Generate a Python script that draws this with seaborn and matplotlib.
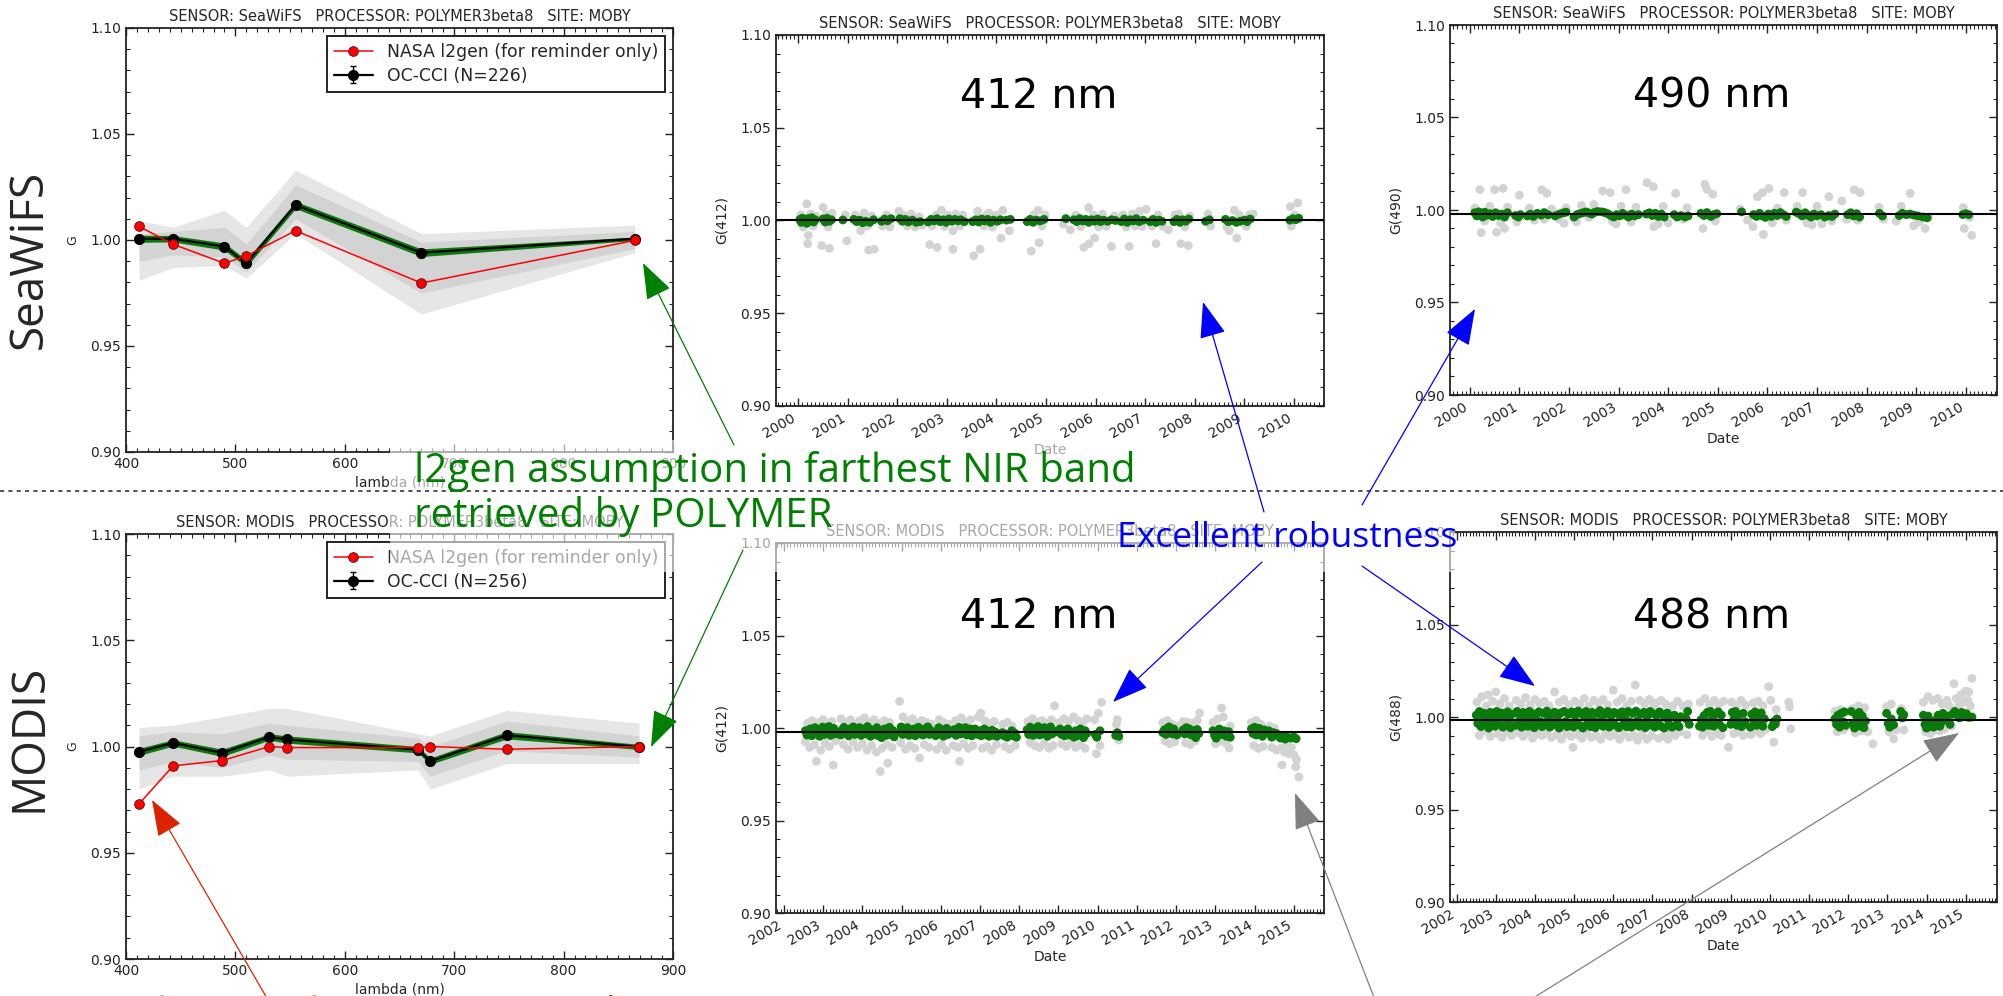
import matplotlib
matplotlib.use("Agg")
import numpy as np
import matplotlib.pyplot as plt
import seaborn as sns
from matplotlib.ticker import MultipleLocator, FormatStrFormatter
from matplotlib.patches import Rectangle
from matplotlib.lines import Line2D

sns.set_style("ticks")
plt.rcParams["font.family"] = ["DejaVu Sans"]

# ---------------------------------------------------------------- spectra
sw_wl = [412, 443, 490, 510, 555, 670, 865]
sw_occi = [1.0006, 1.0006, 0.9969, 0.9890, 1.0165, 0.9940, 1.0006]
sw_occi_std = [0.0017, 0.0015, 0.0017, 0.0017, 0.0017, 0.0018, 0.0008]
sw_l2gen = [1.0064, 0.9980, 0.9890, 0.9925, 1.0044, 0.9797, 0.9998]
sw_all_lo = [0.981, 0.987, 0.988, 0.982, 1.003, 0.965, 0.994]
sw_all_hi = [1.009, 1.006, 1.014, 1.006, 1.033, 1.003, 1.007]
sw_core_lo = [0.990, 0.993, 0.992, 0.985, 1.010, 0.975, 0.996]
sw_core_hi = [1.003, 1.004, 1.006, 0.998, 1.026, 0.999, 1.004]

mo_wl = [412, 443, 488, 531, 547, 667, 678, 748, 869]
mo_occi = [0.9975, 1.0017, 0.9970, 1.0045, 1.0033, 0.9985, 0.9931, 1.0053, 0.9998]
mo_occi_std = [0.0017, 0.0015, 0.0017, 0.0015, 0.0017, 0.0015, 0.0015, 0.0017, 0.0012]
mo_l2gen = [0.9730, 0.9909, 0.9934, 1.0000, 0.9995, 0.9995, 1.0000, 0.9987, 1.0000]
mo_all_lo = [0.980, 0.986, 0.986, 0.989, 0.986, 0.989, 0.980, 0.992, 0.992]
mo_all_hi = [1.009, 1.010, 1.014, 1.018, 1.018, 1.006, 1.005, 1.017, 1.011]
mo_core_lo = [0.989, 0.993, 0.990, 0.996, 0.994, 0.993, 0.986, 0.998, 0.995]
mo_core_hi = [1.005, 1.007, 1.006, 1.011, 1.010, 1.004, 1.000, 1.012, 1.005]

# ---------------------------------------------------------------- SeaWiFS 412 time series
sw412_sel_t = [2000.03, 2000.06, 2000.08, 2000.11, 2000.14, 2000.17, 2000.20, 2000.24, 2000.27, 2000.31, 2000.34,
               2000.50, 2000.54, 2000.58, 2000.63, 2000.67, 2000.90,
               2001.12, 2001.18, 2001.24, 2001.30, 2001.36, 2001.44, 2001.52,
               2001.68, 2001.74, 2001.80, 2001.87,
               2002.05, 2002.10, 2002.16, 2002.22, 2002.30, 2002.38, 2002.46,
               2002.62, 2002.68, 2002.74, 2002.80, 2002.86, 2002.92, 2002.98, 2003.04, 2003.10, 2003.16, 2003.22, 2003.28, 2003.35,
               2003.52, 2003.58, 2003.64, 2003.70, 2003.76, 2003.82, 2003.88, 2003.94, 2004.02, 2004.08,
               2004.20, 2004.28,
               2004.62, 2004.68, 2004.74, 2004.80, 2004.88, 2004.96, 2005.40,
               2005.56, 2005.62, 2005.68, 2005.74, 2005.80, 2005.86, 2005.92, 2005.98, 2006.04, 2006.10, 2006.16, 2006.24, 2006.32, 2006.40,
               2006.52, 2006.58, 2006.64, 2006.70, 2006.76, 2006.82, 2006.88, 2006.96,
               2007.10, 2007.16, 2007.22, 2007.28, 2007.34,
               2007.58, 2007.64, 2007.70, 2007.76, 2007.82, 2007.88,
               2008.22, 2008.30,
               2008.62, 2008.68, 2008.76, 2008.84, 2008.92, 2009.00, 2009.06, 2009.12,
               2009.92, 2009.98, 2010.04, 2010.10]
sw412_sel_g = [1.0005, 0.9990, 1.0012, 0.9995, 1.0008, 0.9985, 1.0010, 0.9998, 1.0015, 0.9992, 1.0004,
               1.0008, 0.9992, 1.0012, 0.9996, 1.0004, 1.0003,
               1.0006, 0.9994, 1.0002, 0.9988, 0.9996, 0.9990, 1.0004,
               0.9996, 1.0008, 0.9998, 1.0010,
               1.0010, 0.9996, 1.0006, 0.9992, 1.0002, 0.9990, 0.9994,
               0.9992, 1.0006, 0.9998, 1.0010, 0.9994, 1.0004, 0.9990, 1.0008, 0.9996, 1.0006, 0.9998, 1.0004, 0.9994,
               0.9994, 1.0004, 0.9992, 1.0008, 0.9998, 1.0006, 0.9990, 1.0002, 0.9996, 1.0004,
               1.0002, 1.0006,
               0.9994, 1.0006, 0.9990, 1.0002, 0.9998, 1.0006, 1.0010,
               1.0004, 0.9994, 1.0010, 0.9998, 1.0006, 0.9990, 1.0004, 0.9996, 1.0008, 0.9994, 1.0002, 0.9996, 1.0004, 1.0000,
               0.9994, 1.0008, 0.9990, 1.0004, 0.9998, 1.0010, 0.9994, 1.0002,
               0.9994, 1.0006, 0.9990, 1.0002, 0.9996,
               0.9994, 1.0006, 0.9990, 1.0004, 0.9996, 1.0008,
               0.9996, 1.0004,
               1.0006, 0.9994, 1.0000, 0.9990, 0.9996, 1.0002, 0.9994, 1.0008,
               1.0002, 1.0010, 1.0004, 1.0012]
sw412_all_t = [2000.05, 2000.10, 2000.17, 2000.19, 2000.20, 2000.25, 2000.30, 2000.36,
               2000.47, 2000.50, 2000.56, 2000.60, 2000.63, 2000.68, 2000.98, 2000.95,
               2001.15, 2001.26, 2001.33, 2001.40, 2001.42, 2001.53, 2001.48,
               2001.70, 2001.78, 2001.85,
               2002.03, 2002.12, 2002.20, 2002.28, 2002.36, 2002.44, 2002.50,
               2002.65, 2002.70, 2002.78, 2002.80, 2002.89, 2002.95, 2003.02, 2003.12, 2003.12, 2003.18, 2003.26, 2003.32,
               2003.54, 2003.62, 2003.67, 2003.74, 2003.80, 2003.85, 2003.92, 2004.00, 2004.09, 2004.13, 2004.26,
               2004.70, 2004.75, 2004.84, 2004.86, 2004.92, 2004.98,
               2005.35, 2005.49,
               2005.60, 2005.70, 2005.76, 2005.86, 2005.87, 2005.95, 2005.98, 2006.06, 2006.14, 2006.22, 2006.32, 2006.38,
               2006.55, 2006.62, 2006.68, 2006.74, 2006.80, 2006.89, 2006.94,
               2007.02, 2007.14, 2007.22, 2007.26, 2007.36, 2007.47,
               2007.60, 2007.68, 2007.72, 2007.80, 2007.87, 2007.90,
               2008.27, 2008.32,
               2008.65, 2008.70, 2008.80, 2008.85, 2008.90, 2009.04, 2009.10, 2009.18,
               2009.93, 2009.95, 2010.08, 2010.02]
sw412_all_g = [1.0030, 0.9965, 1.0090, 0.9875, 0.9920, 1.0035, 0.9970, 1.0025,
               0.9865, 1.0070, 1.0030, 0.9965, 0.9850, 1.0040, 0.9890, 1.0030,
               1.0030, 0.9945, 1.0040, 0.9970, 0.9840, 0.9845, 1.0025,
               0.9970, 1.0030, 0.9965,
               1.0050, 1.0030, 0.9970, 1.0035, 0.9965, 1.0020, 0.9975,
               0.9870, 0.9970, 1.0030, 0.9855, 1.0055, 0.9968, 1.0030, 0.9845, 0.9945, 1.0035, 0.9970, 1.0030,
               0.9810, 1.0050, 0.9845, 0.9970, 1.0030, 1.0040, 0.9965, 1.0030, 0.9905, 1.0055, 0.9945,
               0.9835, 1.0030, 1.0055, 0.9880, 0.9970, 1.0030,
               0.9980, 0.9950,
               1.0030, 0.9968, 0.9855, 1.0070, 0.9875, 1.0030, 0.9905, 0.9965, 1.0035, 0.9970, 0.9860, 1.0025,
               1.0030, 0.9965, 0.9860, 1.0035, 0.9970, 1.0050, 0.9968,
               1.0060, 0.9970, 0.9875, 1.0030, 0.9968, 0.9950,
               1.0030, 1.0035, 0.9875, 0.9965, 0.9865, 1.0025,
               1.0035, 0.9970,
               0.9965, 0.9945, 1.0055, 0.9905, 1.0030, 0.9968, 1.0030, 1.0035,
               1.0075, 0.9970, 1.0095, 1.0030]

# ---------------------------------------------------------------- SeaWiFS 490 time series
sw490_sel_t = [2000.10, 2000.14, 2000.18, 2000.22, 2000.26, 2000.30, 2000.34, 2000.40, 2000.46, 2000.52, 2000.58, 2000.64, 2000.70, 2000.76,
               2000.92, 2000.98, 2001.02,
               2001.16, 2001.22, 2001.28, 2001.36, 2001.44, 2001.50, 2001.58,
               2001.72, 2001.80, 2001.88, 2001.94,
               2002.10, 2002.16, 2002.22, 2002.28, 2002.34, 2002.40, 2002.46, 2002.52, 2002.58,
               2002.66, 2002.72, 2002.78, 2002.84, 2002.90, 2002.96, 2003.02, 2003.08, 2003.14, 2003.20, 2003.26, 2003.32, 2003.40,
               2003.56, 2003.62, 2003.68, 2003.74, 2003.80, 2003.86, 2003.92,
               2004.12, 2004.18, 2004.26, 2004.34, 2004.40,
               2004.66, 2004.72, 2004.78, 2004.86, 2004.92, 2004.98,
               2005.48, 2005.72, 2005.78, 2005.84, 2005.90, 2005.96, 2006.02, 2006.08, 2006.14, 2006.20, 2006.26, 2006.32, 2006.38,
               2006.58, 2006.64, 2006.70, 2006.76, 2006.82, 2006.88, 2006.94, 2007.00, 2007.08, 2007.16, 2007.24, 2007.30, 2007.36,
               2007.62, 2007.68, 2007.74, 2007.80, 2007.86,
               2008.26, 2008.32,
               2008.66, 2008.72, 2008.80, 2008.88, 2008.96, 2009.04, 2009.14, 2009.22,
               2009.94, 2010.00, 2010.06]
sw490_sel_g = [0.9985, 0.9968, 0.9990, 0.9975, 0.9962, 0.9988, 0.9972, 0.9980, 0.9965, 0.9985, 0.9970, 0.9978, 0.9962, 0.9985,
               0.9970, 0.9962, 0.9975,
               0.9968, 0.9978, 0.9965, 0.9982, 0.9972, 0.9986, 0.9974,
               0.9968, 0.9978, 0.9984, 0.9988,
               0.9962, 0.9975, 0.9980, 0.9985, 0.9990, 0.9984, 0.9978, 0.9988, 0.9992,
               0.9990, 0.9986, 0.9980, 0.9970, 0.9962, 0.9975, 0.9968, 0.9982, 0.9972, 0.9962, 0.9978, 0.9968, 0.9975,
               0.9978, 0.9985, 0.9970, 0.9982, 0.9965, 0.9978, 0.9962,
               0.9975, 0.9962, 0.9970, 0.9962, 0.9968,
               0.9982, 0.9970, 0.9986, 0.9965, 0.9975, 0.9980,
               0.9990, 0.9975, 0.9965, 0.9982, 0.9968, 0.9960, 0.9978, 0.9965, 0.9982, 0.9970, 0.9986, 0.9975, 0.9965,
               0.9988, 0.9980, 0.9968, 0.9985, 0.9972, 0.9962, 0.9978, 0.9968, 0.9975, 0.9962, 0.9970, 0.9965, 0.9978,
               0.9975, 0.9985, 0.9968, 0.9980, 0.9962,
               0.9982, 0.9968,
               0.9970, 0.9982, 0.9975, 0.9978, 0.9972, 0.9968, 0.9962, 0.9958,
               0.9975, 0.9980, 0.9975]
sw490_all_t = [2000.10, 2000.20, 2000.23, 2000.30, 2000.40, 2000.50, 2000.54, 2000.62, 2000.67, 2000.70, 2000.76,
               2000.95, 2001.00, 2001.20, 2001.30, 2001.45, 2001.55, 2001.50, 2001.65, 2001.80, 2001.90, 2001.94,
               2002.15, 2002.25, 2002.40, 2002.50, 2002.68, 2002.83, 2002.87, 2002.95, 2003.05, 2003.15, 2003.25, 2003.35,
               2003.57, 2003.70, 2003.71, 2003.80, 2003.90, 2004.00, 2004.15, 2004.30, 2004.38,
               2004.70, 2004.74, 2004.78, 2004.90, 2004.95,
               2005.45, 2005.60, 2005.71, 2005.80, 2005.90, 2005.92, 2006.03, 2006.10, 2006.20, 2006.34, 2006.38,
               2006.60, 2006.71, 2006.80, 2006.90, 2007.00, 2007.10, 2007.24, 2007.30, 2007.50,
               2007.60, 2007.75, 2007.87, 2007.82,
               2008.25, 2008.34,
               2008.60, 2008.70, 2008.88, 2008.95, 2009.05, 2009.18, 2009.25,
               2009.95, 2009.97, 2010.12, 2010.08]
sw490_all_g = [1.0010, 1.0110, 0.9877, 0.9940, 1.0020, 1.0110, 0.9880, 0.9930, 1.0117, 0.9900, 1.0015,
               0.9935, 1.0080, 1.0010, 0.9945, 1.0110, 1.0090, 0.9950, 1.0005, 0.9950, 0.9928, 1.0012,
               0.9935, 1.0025, 0.9960, 1.0030, 1.0103, 1.0094, 0.9940, 0.9925, 1.0020, 1.0110, 0.9935, 1.0015,
               1.0148, 1.0126, 0.9910, 0.9925, 1.0020, 0.9930, 1.0090, 0.9950, 1.0012,
               0.9900, 1.0139, 1.0112, 1.0085, 0.9940,
               1.0005, 0.9945, 0.9910, 1.0072, 1.0094, 0.9868, 1.0116, 0.9930, 1.0010, 1.0094, 0.9945,
               1.0020, 1.0094, 0.9930, 0.9920, 1.0020, 0.9925, 1.0072, 0.9940, 1.0049,
               0.9950, 1.0110, 1.0094, 0.9945,
               1.0015, 0.9950,
               0.9940, 1.0020, 1.0090, 0.9915, 0.9935, 0.9900, 0.9960,
               1.0013, 0.9900, 0.9863, 0.9960]

# ---------------------------------------------------------------- MODIS 412 time series
mo412_sel_t = [2002.55, 2002.59, 2002.63, 2002.67, 2002.71, 2002.75, 2002.79, 2002.83, 2002.87, 2002.91, 2002.95, 2002.99, 2003.03, 2003.07, 2003.11, 2003.15, 2003.19, 2003.23, 2003.27, 2003.31, 2003.35,
               2003.45, 2003.49, 2003.53, 2003.57, 2003.61, 2003.65, 2003.69, 2003.73, 2003.77, 2003.81, 2003.85, 2003.89, 2003.93, 2003.97, 2004.01, 2004.05, 2004.09, 2004.13, 2004.17, 2004.21, 2004.25, 2004.29, 2004.33, 2004.37, 2004.41, 2004.45, 2004.49, 2004.53, 2004.57, 2004.61, 2004.65, 2004.69, 2004.73, 2004.77, 2004.81,
               2004.95, 2004.99, 2005.03, 2005.07, 2005.11, 2005.15, 2005.19, 2005.23, 2005.27, 2005.31, 2005.35, 2005.39, 2005.43, 2005.47, 2005.51, 2005.55, 2005.59, 2005.63, 2005.67, 2005.71, 2005.75, 2005.79,
               2005.87, 2005.91, 2005.95, 2005.99, 2006.03, 2006.07, 2006.11, 2006.15, 2006.19, 2006.23,
               2006.31, 2006.35, 2006.39, 2006.43, 2006.47, 2006.51, 2006.55, 2006.59, 2006.63, 2006.67, 2006.71, 2006.75, 2006.79, 2006.83, 2006.87,
               2006.95, 2006.99, 2007.03, 2007.07, 2007.11, 2007.15, 2007.19, 2007.23, 2007.27, 2007.31, 2007.35, 2007.39, 2007.43,
               2007.57, 2007.61, 2007.65, 2007.69, 2007.75, 2007.81, 2007.85, 2007.89, 2007.93,
               2008.20, 2008.24, 2008.28, 2008.32, 2008.36, 2008.40, 2008.44, 2008.48, 2008.52, 2008.56, 2008.60, 2008.64, 2008.68, 2008.72, 2008.76, 2008.80, 2008.84, 2008.88,
               2009.00, 2009.04, 2009.08, 2009.12, 2009.16, 2009.20, 2009.24, 2009.28, 2009.32, 2009.36, 2009.40, 2009.44, 2009.48, 2009.52, 2009.56, 2009.60, 2009.64, 2009.68, 2009.72,
               2009.94, 2009.98, 2010.06,
               2010.46, 2010.50, 2010.54,
               2011.66, 2011.70, 2011.74, 2011.78, 2011.82, 2011.86, 2011.90, 2011.94, 2011.98, 2012.02,
               2012.18, 2012.22, 2012.26, 2012.30, 2012.34, 2012.38, 2012.42, 2012.46, 2012.50, 2012.54, 2012.58,
               2012.94, 2012.98, 2013.02, 2013.06, 2013.10, 2013.16, 2013.22, 2013.28, 2013.34, 2013.38,
               2013.92, 2013.96, 2014.00, 2014.04, 2014.08, 2014.12, 2014.16, 2014.20, 2014.24,
               2014.36, 2014.40, 2014.44, 2014.48, 2014.52, 2014.56,
               2014.66, 2014.72, 2014.78, 2014.84, 2014.92, 2015.00, 2015.06]
mo412_sel_g = [0.9985, 0.9962, 0.9975, 0.9995, 0.9958, 0.9982, 1.0002, 0.9968, 0.9990, 0.9955, 0.9978, 1.0005, 0.9965, 0.9988, 0.9972, 1.0008, 0.9960, 0.9985, 0.9998, 0.9968, 0.9980,
               0.9962, 0.9990, 1.0004, 0.9972, 0.9985, 0.9958, 0.9995, 0.9975, 1.0006, 0.9965, 0.9988, 0.9970, 1.0002, 0.9960, 0.9982, 0.9995, 0.9968, 1.0008, 0.9975, 0.9955, 0.9990, 0.9965, 0.9980, 1.0002, 0.9958, 0.9985, 0.9948, 0.9972, 0.9995, 0.9960, 0.9980, 1.0004, 0.9965, 0.9988, 0.9952,
               0.9980, 1.0006, 0.9965, 0.9990, 0.9972, 1.0002, 0.9960, 0.9985, 0.9970, 0.9995, 0.9958, 0.9980, 1.0004, 0.9968, 0.9988, 0.9962, 0.9995, 0.9975, 1.0006, 0.9965, 0.9985, 0.9970,
               0.9958, 0.9982, 1.0002, 0.9968, 0.9990, 0.9955, 0.9978, 0.9998, 0.9965, 0.9985,
               0.9975, 0.9992, 0.9960, 0.9982, 1.0004, 0.9968, 0.9988, 0.9972, 1.0002, 0.9962, 0.9985, 0.9995, 0.9958, 0.9978, 0.9995,
               0.9965, 0.9985, 0.9958, 0.9975, 0.9995, 0.9965, 0.9982, 0.9955, 0.9970, 0.9988, 0.9960, 0.9978, 0.9955,
               0.9975, 0.9958, 0.9968, 0.9950, 0.9962, 0.9985, 0.9958, 0.9972, 0.9950,
               0.9990, 0.9965, 1.0005, 0.9978, 0.9960, 0.9995, 0.9972, 1.0008, 0.9962, 0.9985, 0.9968, 1.0002, 0.9975, 0.9955, 0.9990, 1.0006, 0.9968, 0.9985,
               0.9978, 0.9995, 0.9965, 0.9985, 0.9958, 0.9975, 0.9995, 0.9962, 0.9980, 0.9965, 0.9950, 0.9985, 0.9958, 0.9975, 0.9995, 0.9962, 0.9948, 0.9985, 0.9970,
               0.9965, 0.9950, 0.9985,
               0.9960, 0.9975, 0.9955,
               0.9975, 0.9990, 0.9965, 0.9998, 1.0006, 0.9980, 0.9968, 0.9995, 0.9975, 0.9962,
               0.9990, 0.9968, 1.0002, 0.9978, 0.9995, 0.9962, 0.9985, 0.9975, 0.9948, 0.9992, 0.9970,
               0.9985, 0.9960, 0.9945, 0.9975, 0.9995, 0.9965, 0.9985, 0.9955, 0.9980, 0.9950,
               0.9995, 0.9970, 1.0004, 0.9962, 0.9985, 0.9998, 0.9975, 0.9955, 0.9990,
               0.9985, 0.9965, 0.9950, 0.9975, 0.9960, 0.9970,
               0.9945, 0.9955, 0.9940, 0.9950, 0.9945, 0.9952, 0.9942]
mo412_all_t = [2002.55, 2002.60, 2002.66, 2002.72, 2002.78, 2002.83, 2002.88, 2002.94, 2003.00, 2003.05, 2003.10, 2003.16, 2003.22, 2003.26, 2003.32,
               2003.46, 2003.52, 2003.58, 2003.64, 2003.70, 2003.76, 2003.82, 2003.88, 2003.94, 2004.00, 2004.06, 2004.12, 2004.18, 2004.24, 2004.30, 2004.36, 2004.42, 2004.46, 2004.50, 2004.56, 2004.62, 2004.65, 2004.70, 2004.76,
               2004.95, 2004.98, 2005.04, 2005.10, 2005.16, 2005.22, 2005.28, 2005.34, 2005.40, 2005.46, 2005.52, 2005.58, 2005.64, 2005.70, 2005.76,
               2005.90, 2005.96, 2006.02, 2006.08, 2006.14, 2006.20,
               2006.32, 2006.38, 2006.44, 2006.48, 2006.52, 2006.58, 2006.64, 2006.70, 2006.76, 2006.82,
               2006.96, 2007.02, 2007.06, 2007.12, 2007.18, 2007.24, 2007.30, 2007.36, 2007.42,
               2007.58, 2007.64, 2007.70, 2007.76, 2007.82, 2007.90,
               2008.22, 2008.28, 2008.34, 2008.40, 2008.46, 2008.52, 2008.58, 2008.64, 2008.70, 2008.76, 2008.82, 2008.90, 2008.86,
               2009.02, 2009.08, 2009.14, 2009.20, 2009.26, 2009.32, 2009.38, 2009.44, 2009.50, 2009.56, 2009.62, 2009.68, 2009.72,
               2009.92, 2009.97, 2010.02, 2010.10, 2010.06,
               2010.48, 2010.50, 2010.54,
               2011.66, 2011.72, 2011.78, 2011.84, 2011.90, 2011.96, 2012.02,
               2012.18, 2012.24, 2012.30, 2012.36, 2012.42, 2012.48, 2012.54, 2012.60,
               2012.94, 2013.00, 2013.06, 2013.12, 2013.16, 2013.20, 2013.26, 2013.35, 2013.38,
               2013.92, 2013.98, 2014.04, 2014.10, 2014.16, 2014.22,
               2014.38, 2014.44, 2014.50, 2014.56,
               2014.66, 2014.70, 2014.76, 2014.82, 2014.88, 2014.94, 2015.00, 2015.05, 2015.07, 2015.13]
mo412_all_g = [0.9925, 1.0025, 0.9895, 1.0040, 0.9910, 0.9820, 1.0030, 0.9880, 1.0045, 0.9920, 1.0020, 0.9900, 1.0035, 0.9800, 0.9930,
               1.0050, 0.9910, 1.0030, 0.9885, 1.0045, 0.9925, 1.0020, 0.9895, 1.0040, 0.9915, 1.0055, 0.9880, 1.0030, 0.9905, 1.0045, 0.9870, 1.0025, 0.9765, 0.9890, 1.0040, 0.9910, 0.9810, 1.0030, 0.9895,
               1.0144, 0.9920, 1.0060, 0.9885, 1.0035, 0.9905, 1.0050, 0.9890, 1.0025, 0.9838, 1.0040, 0.9910, 1.0030, 0.9895, 1.0020,
               0.9885, 1.0045, 0.9910, 1.0030, 0.9880, 1.0020,
               0.9905, 1.0040, 0.9895, 0.9820, 1.0055, 0.9915, 1.0030, 0.9890, 1.0045, 0.9905,
               1.0060, 1.0080, 0.9890, 1.0040, 0.9900, 1.0025, 0.9880, 1.0035, 0.9910,
               1.0020, 0.9900, 1.0030, 0.9885, 1.0010, 0.9905,
               1.0035, 0.9920, 1.0050, 0.9905, 1.0030, 0.9895, 1.0040, 0.9915, 1.0025, 0.9890, 1.0045, 1.0120, 0.9905,
               1.0030, 0.9915, 1.0050, 0.9900, 1.0035, 0.9920, 1.0060, 0.9895, 1.0040, 0.9910, 1.0030, 0.9890, 1.0050,
               1.0045, 0.9861, 1.0080, 1.0139, 0.9905,
               1.0020, 1.0045, 0.9935,
               1.0030, 0.9930, 1.0040, 0.9915, 1.0020, 0.9925, 1.0010,
               1.0035, 0.9920, 1.0030, 0.9910, 1.0025, 0.9930, 1.0040, 1.0081,
               1.0030, 0.9915, 1.0050, 0.9930, 1.0108, 1.0060, 0.9920, 0.9892, 1.0010,
               1.0030, 0.9905, 1.0040, 0.9890, 1.0020, 0.9900,
               1.0010, 0.9895, 1.0000, 0.9880,
               0.9890, 0.9800, 0.9870, 0.9900, 0.9860, 0.9895, 0.9855, 0.9790, 0.9830, 0.9735]

# ---------------------------------------------------------------- MODIS 488 time series
mo488_sel_t = [2002.50, 2002.54, 2002.58, 2002.62, 2002.66, 2002.70, 2002.74, 2002.78, 2002.82, 2002.86, 2002.90, 2002.94, 2002.98, 2003.02, 2003.06, 2003.10, 2003.14, 2003.18, 2003.22, 2003.26, 2003.30, 2003.34, 2003.38, 2003.42,
               2003.50, 2003.54, 2003.58, 2003.62, 2003.66, 2003.70, 2003.74, 2003.78, 2003.82, 2003.86, 2003.90, 2003.94, 2003.98, 2004.02, 2004.06, 2004.10, 2004.14, 2004.18, 2004.22, 2004.26, 2004.30, 2004.34, 2004.38, 2004.42, 2004.46, 2004.50, 2004.54, 2004.58, 2004.62, 2004.66, 2004.70, 2004.74, 2004.78, 2004.82, 2004.86, 2004.90, 2004.94, 2004.98,
               2005.02, 2005.06, 2005.10, 2005.14, 2005.18, 2005.22, 2005.26, 2005.30, 2005.34, 2005.38, 2005.42, 2005.46, 2005.50, 2005.54, 2005.58, 2005.62, 2005.66, 2005.70, 2005.74, 2005.78, 2005.82, 2005.86, 2005.90, 2005.94, 2005.98,
               2006.02, 2006.06, 2006.10, 2006.14, 2006.18, 2006.22, 2006.26, 2006.30, 2006.34, 2006.38, 2006.42, 2006.46, 2006.50, 2006.54, 2006.58, 2006.62, 2006.66, 2006.70, 2006.74, 2006.78, 2006.82, 2006.86, 2006.90, 2006.94, 2006.98,
               2007.02, 2007.06, 2007.10, 2007.14, 2007.18, 2007.22, 2007.26, 2007.30, 2007.34, 2007.38, 2007.42, 2007.46, 2007.50,
               2007.56, 2007.60, 2007.64, 2007.68, 2007.72,
               2007.86, 2007.90, 2007.94,
               2008.20, 2008.24, 2008.28, 2008.32, 2008.36, 2008.40, 2008.44, 2008.48, 2008.52, 2008.56, 2008.60, 2008.64, 2008.68, 2008.72, 2008.76, 2008.80,
               2009.00, 2009.04, 2009.08, 2009.12, 2009.16, 2009.20, 2009.24, 2009.28, 2009.32, 2009.36,
               2009.50, 2009.54, 2009.58, 2009.62, 2009.66, 2009.70, 2009.74, 2009.78, 2009.82, 2009.86,
               2010.06, 2010.10, 2010.14, 2010.18,
               2011.66, 2011.70, 2011.74, 2011.78, 2011.82, 2011.86, 2011.90, 2011.94,
               2012.08, 2012.12, 2012.16, 2012.20, 2012.24, 2012.28, 2012.32, 2012.36, 2012.40, 2012.44,
               2012.98, 2013.02, 2013.06, 2013.10, 2013.16,
               2013.34, 2013.38, 2013.42,
               2013.92, 2013.96, 2014.00, 2014.04, 2014.08, 2014.12, 2014.18, 2014.24, 2014.30, 2014.34, 2014.38, 2014.42, 2014.48, 2014.54, 2014.60, 2014.66, 2014.72, 2014.78, 2014.84, 2014.90, 2014.96, 2015.02, 2015.08, 2015.16]
mo488_sel_g = [1.0010, 0.9965, 1.0030, 0.9948, 0.9990, 1.0020, 0.9958, 1.0005, 0.9940, 1.0025, 0.9975, 1.0012, 0.9950, 1.0030, 0.9968, 0.9995, 1.0022, 0.9945, 1.0008, 0.9960, 1.0028, 0.9985, 0.9942, 1.0015,
               0.9955, 1.0030, 0.9975, 1.0010, 0.9945, 1.0025, 0.9965, 1.0002, 0.9950, 1.0030, 0.9980, 1.0018, 0.9942, 1.0008, 0.9960, 1.0028, 0.9975, 0.9948, 1.0020, 0.9965, 1.0032, 0.9985, 0.9945, 1.0012, 0.9958, 1.0026, 0.9970, 1.0005, 0.9940, 1.0022, 0.9960, 1.0030, 0.9975, 0.9948, 1.0015, 0.9962, 1.0028, 0.9945,
               1.0008, 0.9972, 1.0032, 0.9955, 1.0018, 0.9940, 1.0002, 1.0030, 0.9965, 1.0012, 0.9948, 1.0025, 0.9978, 0.9942, 1.0020, 0.9960, 1.0035, 0.9985, 0.9950, 1.0015, 0.9968, 1.0030, 0.9945, 1.0008, 0.9972,
               1.0025, 0.9955, 1.0018, 0.9942, 1.0002, 1.0028, 0.9962, 1.0010, 0.9948, 1.0030, 0.9975, 0.9945, 1.0020, 0.9960, 1.0032, 0.9980, 0.9950, 1.0015, 0.9965, 1.0025, 0.9942, 1.0005, 0.9972, 1.0030, 0.9955,
               1.0018, 0.9945, 1.0008, 0.9968, 1.0028, 0.9950, 1.0012, 0.9940, 0.9995, 1.0022, 0.9960, 1.0005, 0.9945,
               1.0010, 0.9955, 0.9985, 0.9948, 1.0002,
               0.9990, 1.0030, 0.9960,
               0.9950, 0.9985, 0.9945, 1.0008, 0.9970, 1.0025, 0.9955, 1.0030, 0.9985, 0.9950, 1.0015, 0.9968, 1.0028, 0.9958, 1.0010, 0.9942,
               0.9960, 1.0025, 0.9988, 1.0030, 0.9955, 1.0012, 0.9970, 0.9948, 1.0020, 0.9975,
               0.9945, 1.0015, 0.9985, 1.0028, 0.9955, 1.0005, 0.9965, 1.0022, 0.9950, 0.9990,
               0.9948, 0.9975, 0.9962, 0.9990,
               0.9990, 0.9960, 1.0010, 0.9945, 1.0020, 0.9975, 1.0028, 0.9955,
               1.0030, 0.9965, 0.9940, 1.0010, 0.9985, 1.0025, 0.9950, 1.0005, 0.9942, 0.9978,
               1.0020, 0.9965, 0.9945, 0.9990, 0.9958,
               1.0030, 0.9995, 1.0012,
               1.0010, 0.9960, 0.9940, 1.0005, 0.9975, 0.9950, 0.9945, 0.9985, 1.0010, 0.9950, 0.9972, 1.0020, 0.9985, 1.0005, 0.9960, 1.0015, 1.0030, 1.0012, 0.9995, 1.0025, 1.0005, 1.0018, 0.9998, 1.0000]
mo488_all_t = [2002.52, 2002.58, 2002.64, 2002.70, 2002.76, 2002.80, 2002.86, 2002.92, 2003.00, 2003.04, 2003.10, 2003.16, 2003.22, 2003.28, 2003.34, 2003.40,
               2003.52, 2003.58, 2003.64, 2003.70, 2003.76, 2003.82, 2003.88, 2003.94, 2004.00, 2004.06, 2004.12, 2004.18, 2004.24, 2004.30, 2004.36, 2004.42, 2004.50, 2004.56, 2004.62, 2004.68, 2004.74, 2004.80, 2004.86, 2004.92, 2004.97,
               2005.02, 2005.08, 2005.14, 2005.20, 2005.26, 2005.32, 2005.38, 2005.44, 2005.50, 2005.56, 2005.62, 2005.68, 2005.74, 2005.80, 2005.86, 2005.92,
               2006.00, 2006.04, 2006.10, 2006.16, 2006.22, 2006.28, 2006.34, 2006.40, 2006.46, 2006.52, 2006.56, 2006.62, 2006.68, 2006.74, 2006.80, 2006.86, 2006.92, 2006.98,
               2007.04, 2007.10, 2007.16, 2007.22, 2007.28, 2007.34, 2007.40, 2007.47, 2007.52,
               2007.58, 2007.64, 2007.70, 2007.78, 2007.88, 2007.92,
               2008.22, 2008.28, 2008.34, 2008.40, 2008.46, 2008.52, 2008.58, 2008.64, 2008.70, 2008.76, 2008.82, 2008.94,
               2009.02, 2009.08, 2009.14, 2009.20, 2009.26, 2009.32, 2009.38,
               2009.52, 2009.58, 2009.64, 2009.70, 2009.76, 2009.82, 2009.88, 2009.97, 2010.02, 2010.10, 2010.16,
               2010.50, 2010.53, 2010.48,
               2011.66, 2011.72, 2011.80, 2011.88, 2011.94,
               2012.10, 2012.18, 2012.26, 2012.34, 2012.42, 2012.50, 2012.63,
               2012.98, 2013.04, 2013.10, 2013.16, 2013.22, 2013.36, 2013.42,
               2013.92, 2013.98, 2014.04, 2014.10, 2014.16, 2014.22, 2014.28, 2014.34, 2014.40, 2014.46, 2014.52, 2014.58, 2014.64, 2014.70, 2014.76, 2014.82, 2014.88, 2014.94, 2015.00, 2015.06, 2015.08, 2015.12, 2015.16]
mo488_all_g = [1.0080, 0.9900, 1.0110, 0.9925, 1.0060, 1.0120, 0.9895, 1.0085, 1.0136, 0.9910, 1.0070, 0.9890, 1.0100, 0.9920, 1.0060, 0.9900,
               1.0090, 0.9915, 1.0070, 0.9895, 1.0105, 0.9920, 1.0065, 0.9885, 1.0095, 0.9910, 1.0075, 0.9900, 1.0085, 0.9915, 1.0060, 0.9890, 1.0136, 0.9905, 1.0080, 0.9880, 1.0095, 0.9910, 1.0065, 0.9895, 0.9836,
               1.0085, 0.9905, 1.0070, 0.9885, 1.0100, 0.9915, 1.0060, 0.9890, 1.0090, 0.9900, 1.0075, 0.9880, 1.0095, 0.9910, 1.0065, 0.9895,
               1.0145, 0.9905, 1.0080, 0.9880, 1.0100, 0.9910, 1.0060, 0.9890, 1.0085, 0.9900, 1.0173, 0.9875, 1.0090, 0.9905, 1.0070, 0.9880, 1.0095, 0.9900,
               1.0065, 1.0078, 0.9885, 1.0090, 0.9895, 1.0070, 0.9880, 0.9918, 1.0060,
               0.9900, 1.0085, 0.9920, 1.0060, 0.9905, 1.0070,
               1.0080, 0.9900, 1.0100, 0.9920, 1.0065, 0.9895, 1.0090, 0.9910, 1.0070, 0.9900, 1.0085, 0.9836,
               1.0080, 0.9910, 1.0060, 0.9920, 1.0090, 0.9900, 1.0065,
               0.9905, 1.0075, 0.9925, 1.0085, 0.9910, 1.0060, 0.9930, 1.0164, 1.0090, 0.9864, 1.0040,
               1.0055, 0.9936, 1.0080,
               1.0030, 0.9920, 1.0040, 0.9930, 1.0025,
               1.0045, 0.9915, 1.0060, 0.9925, 1.0050, 0.9920, 0.9855,
               1.0055, 0.9920, 1.0070, 0.9882, 0.9930, 1.0045, 0.9930,
               1.0080, 0.9920, 1.0110, 0.9910, 1.0090, 0.9930, 1.0100, 0.9925, 1.0070, 0.9935, 1.0090, 1.0060, 0.9950, 1.0180, 1.0100, 1.0060, 1.0120, 1.0080, 1.0140, 1.0090, 1.0136, 1.0060, 1.0209]

TITLE_SW = "SENSOR: SeaWiFS   PROCESSOR: POLYMER3beta8   SITE: MOBY"
TITLE_MO = "SENSOR: MODIS   PROCESSOR: POLYMER3beta8   SITE: MOBY"

W, H = 2003, 996
fig = plt.figure(figsize=(W / 100, H / 100), dpi=100)
fig.patch.set_facecolor("white")


def px_axes(x0, y0, x1, y1):
    return fig.add_axes([x0 / W, 1 - y1 / H, (x1 - x0) / W, (y1 - y0) / H])


def style_axes(ax):
    for s in ax.spines.values():
        s.set_linewidth(1.3)
        s.set_color("#222222")
    ax.tick_params(which="both", direction="in", top=True, right=True,
                   labelsize=10, colors="#222222")
    ax.tick_params(which="major", length=6, width=1)
    ax.tick_params(which="minor", length=3, width=0.8)
    ax.set_ylim(0.90, 1.10)
    ax.yaxis.set_major_locator(MultipleLocator(0.05))
    ax.yaxis.set_minor_locator(MultipleLocator(0.01))
    ax.yaxis.set_major_formatter(FormatStrFormatter("%.2f"))


def spectral_panel(ax, wl, occi, occi_std, l2gen, lo, hi, clo, chi, n, title):
    wl = np.array(wl, float)
    occi = np.array(occi)
    occi_std = np.array(occi_std)
    ax.fill_between(wl, lo, hi, color="#e6e6e6", lw=0, zorder=1)
    ax.fill_between(wl, clo, chi, color="#d3d3d3", lw=0, zorder=1.2)
    ax.fill_between(wl, occi - occi_std, occi + occi_std, color="#0a7a0a", lw=0, zorder=2)
    eb = ax.errorbar(wl, occi, yerr=occi_std, color="k", marker="o", ms=7, lw=1.6,
                     capsize=2.5, elinewidth=1, zorder=3)
    sns.lineplot(x=wl, y=l2gen, color="red", marker="o", markersize=7,
                 markeredgecolor="#551111", markeredgewidth=0.6, lw=1.1, ax=ax, zorder=4)
    style_axes(ax)
    ax.set_xlim(400, 900)
    ax.xaxis.set_major_locator(MultipleLocator(100))
    ax.xaxis.set_minor_locator(MultipleLocator(10))
    ax.set_xlabel("lambda (nm)", fontsize=10, labelpad=3)
    ax.set_ylabel("G", fontsize=9, labelpad=8)
    ax.set_title(title, fontsize=10.5, pad=5)
    h_red = Line2D([], [], color="red", marker="o", ms=7, mec="#551111", mew=0.6, lw=1.1)
    leg = ax.legend([h_red, eb], ["NASA l2gen (for reminder only)", "OC-CCI (N=%d)" % n],
                    loc="upper right", fontsize=12.4, frameon=True, fancybox=False,
                    framealpha=1, edgecolor="#222222", handlelength=2.3,
                    borderpad=0.4, labelspacing=0.35, borderaxespad=0.45)
    leg.get_frame().set_linewidth(1.4)


def time_panel(ax, sel_t, sel_g, all_t, all_g, ref, xlim, years, ylab, title):
    sns.scatterplot(x=all_t, y=all_g, color="#d3d3d3", s=40, edgecolor="none",
                    linewidth=0, ax=ax, zorder=2)
    sns.scatterplot(x=sel_t, y=sel_g, color="#0a7a0a", s=40, edgecolor="none",
                    linewidth=0, ax=ax, zorder=3)
    ax.axhline(ref, color="k", lw=1.5, zorder=4)
    style_axes(ax)
    ax.set_xlim(*xlim)
    ax.set_xticks(years)
    ax.set_xticklabels([str(y) for y in years], rotation=30, ha="right")
    ax.xaxis.set_minor_locator(MultipleLocator(1 / 12))
    ax.set_xlabel("Date", fontsize=10, labelpad=2)
    ax.set_ylabel(ylab, fontsize=10, labelpad=8)
    ax.set_title(title, fontsize=10.5, pad=5)


ax_tl = px_axes(126, 28, 673, 452)
spectral_panel(ax_tl, sw_wl, sw_occi, sw_occi_std, sw_l2gen, sw_all_lo, sw_all_hi,
               sw_core_lo, sw_core_hi, 226, TITLE_SW)
ax_bl = px_axes(126, 534, 673, 959)
spectral_panel(ax_bl, mo_wl, mo_occi, mo_occi_std, mo_l2gen, mo_all_lo, mo_all_hi,
               mo_core_lo, mo_core_hi, 256, TITLE_MO)

sw_years = list(range(2000, 2011))
mo_years = list(range(2002, 2016))
ax_tm = px_axes(776, 35, 1324, 406)
time_panel(ax_tm, sw412_sel_t, sw412_sel_g, sw412_all_t, sw412_all_g, 1.000,
           (1999.55, 2010.61), sw_years, "G(412)", TITLE_SW)
ax_tr = px_axes(1450, 25, 1997, 395)
time_panel(ax_tr, sw490_sel_t, sw490_sel_g, sw490_all_t, sw490_all_g, 0.9977,
           (1999.6, 2010.63), sw_years, "G(490)", TITLE_SW)
ax_bm = px_axes(776, 543, 1324, 913)
time_panel(ax_bm, mo412_sel_t, mo412_sel_g, mo412_all_t, mo412_all_g, 0.9978,
           (2001.8, 2015.77), mo_years, "G(412)", TITLE_MO)
ax_br = px_axes(1450, 532, 1997, 902)
time_panel(ax_br, mo488_sel_t, mo488_sel_g, mo488_all_t, mo488_all_g, 0.9986,
           (2001.83, 2015.8), mo_years, "G(488)", TITLE_MO)

# ---------------------------------------------------------------- slide overlay (pixel coordinates)
ov = fig.add_axes([0, 0, 1, 1], zorder=20)
ov.set_xlim(0, W)
ov.set_ylim(H, 0)
ov.axis("off")

# wavelength captions
for x, y, s in [(1039, 108, "412 nm"), (1712, 107, "490 nm"),
                (1039, 628, "412 nm"), (1712, 628, "488 nm")]:
    ov.text(x, y, s, ha="center", va="baseline", fontsize=29.5, color="k", zorder=2)

# sensor names
ov.text(30, 259, "SeaWiFS", rotation=90, ha="center", va="center",
        fontsize=33, family=["Open Sans", "DejaVu Sans"], zorder=2)
ov.text(30, 738, "MODIS", rotation=90, ha="center", va="center",
        fontsize=33, family=["Open Sans", "DejaVu Sans"], zorder=2)

# translucent text boxes
ov.add_patch(Rectangle((390, 440), 750, 51, facecolor="white", alpha=0.6, lw=0, zorder=1))
ov.add_patch(Rectangle((390, 493), 1065, 79, facecolor="white", alpha=0.6, lw=0, zorder=1))

# separator between sensors
ov.plot([0, W], [491, 491], color="#333333", lw=1.2, ls=(0, (2.5, 2.5)), zorder=1.5)

ANN = ["Open Sans", "DejaVu Sans"]
ov.text(414, 482, "l2gen assumption in farthest NIR band", color="#008000",
        fontsize=29, family=ANN, va="baseline", zorder=3)
ov.text(414, 527, "retrieved by POLYMER", color="#008000",
        fontsize=29, family=ANN, va="baseline", zorder=3)
ov.text(1117, 547, "Excellent robustness", color="#0000ff",
        fontsize=25.5, family=ANN, va="baseline", zorder=3)
ov.text(157, 1026, "l2gen relies on a strong bias at 412 nm", color="#e82a00",
        fontsize=29, family=ANN, va="baseline", zorder=3)


def arrow(tail, tip, color):
    ov.annotate("", xy=tip, xytext=tail,
                arrowprops=dict(arrowstyle="-|>,head_length=1.15,head_width=0.42",
                                color=color, lw=0.9, mutation_scale=20,
                                shrinkA=0, shrinkB=0),
                annotation_clip=False, zorder=4)


arrow((734, 445), (643, 263), "#008000")
arrow((743, 550), (651, 747), "#008000")
arrow((1264, 512), (1203, 302), "#0000ff")
arrow((1362, 505), (1475, 309), "#0000ff")
arrow((1262, 562), (1113, 702), "#0000ff")
arrow((1362, 566), (1535, 686), "#0000ff")
arrow((1375, 1000), (1295, 793), "#808080")
arrow((1530, 1000), (1959, 733), "#808080")
arrow((268, 1000), (152, 800), "#dd2200")

fig.savefig("out.png", dpi=100, facecolor="white")
